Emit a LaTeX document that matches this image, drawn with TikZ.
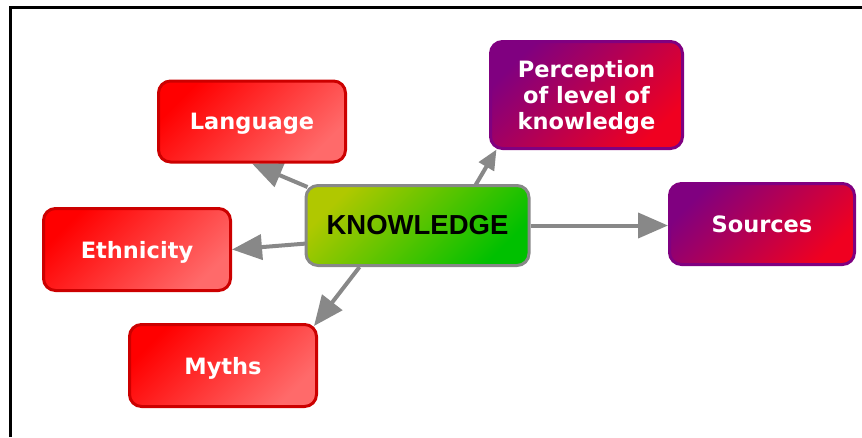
\documentclass[tikz,border=0pt]{standalone}
\usepackage{fontspec}
\newfontfamily\djv{DejaVu Sans}
\newfontfamily\lib{Liberation Sans}
\usetikzlibrary{arrows.meta,calc,backgrounds}
\definecolor{redA}{HTML}{FF0000}
\definecolor{redB}{HTML}{FF6A6A}
\definecolor{redD}{HTML}{CC0000}
\definecolor{purA}{HTML}{800080}
\definecolor{purB}{HTML}{F00020}
\definecolor{purD}{HTML}{800080}
\definecolor{grnA}{HTML}{B0C800}
\definecolor{grnB}{HTML}{00C000}
\definecolor{grayL}{HTML}{888888}
\tikzset{
  box/.style={rounded corners=12pt, line width=3pt, align=center, inner sep=0pt},
  redbox/.style={box, draw=redD, top color=redA, bottom color=redB, shading angle=45,
    text=white, font=\djv\bfseries\fontsize{22.5}{26}\selectfont, text depth=0pt,
    minimum width=187pt, minimum height=81pt},
  purbox/.style={box, draw=purD, top color=purA, bottom color=purB, shading angle=45,
    text=white, font=\djv\bfseries\fontsize{22.5}{26}\selectfont, text depth=0pt},
  grnbox/.style={box, draw=grayL, top color=grnA, bottom color=grnB, shading angle=45,
    text=black, font=\lib\bfseries\fontsize{27.5}{30}\selectfont},
  conn/.style={draw=grayL, line width=4pt, -{Triangle[length=30pt,width=25pt]}},
  connsmall/.style={draw=grayL, line width=4pt, -{Triangle[length=20pt,width=17pt]}},
  frame/.style={draw=black, line width=3pt}
}
\begin{document}
\begin{tikzpicture}[x=1pt,y=-1pt]
\useasboundingbox (0,0) rectangle (862,437);
\coordinate (fa) at (10.5,437);
\coordinate (fb) at (10.5,7);
\coordinate (fc) at (862,7);
\draw[frame] (fa) -- (fb) -- (fc);

\node[grnbox, minimum width=223pt, minimum height=80pt] (kn) at (417.5,225.5) {KNOWLEDGE};
\node[redbox] (lang) at (252,121.5) {Language};
\node[redbox, minimum height=82pt] (eth) at (137,249.5) {Ethnicity};
\node[redbox, minimum height=82pt] (myth) at (223,365.5) {Myths};
\node[purbox, minimum width=185pt, minimum height=81pt] (src) at (762,224) {Sources};
\node[purbox, minimum width=192pt, minimum height=107pt] (perc) at (586.5,95) {Perception\\of level of\\knowledge};

\begin{scope}[on background layer]
\draw[conn] ($(kn.north west)+(3,3)$) -- (lang.south);
\draw[conn] ($(kn.west)+(2,18)$) -- (eth.east);
\draw[conn] ($(kn.south west)+(55,0)$) -- ($(myth.north east)+(-4,3)$);
\draw[conn] (kn.east) -- (kn.east -| src.west);
\draw[connsmall] ($(kn.north)+(57.5,2)$) -- ($(perc.south west)+(7.5,-0.5)$);
\end{scope}
\end{tikzpicture}
\end{document}
